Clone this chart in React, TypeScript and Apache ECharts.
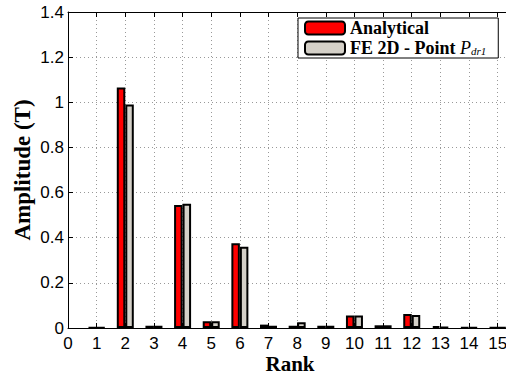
import React, { useEffect, useRef } from "react";
import * as echarts from "echarts";

const ranks = [1, 2, 3, 4, 5, 6, 7, 8, 9, 10, 11, 12, 13, 14, 15];
const analytical = [0.003, 1.065, 0.01, 0.545, 0.03, 0.375, 0.015, 0.01, 0.01, 0.055, 0.012, 0.062, 0.008, 0.003, 0.003];
const fe2d = [0.003, 0.99, 0.01, 0.55, 0.03, 0.36, 0.01, 0.025, 0.01, 0.055, 0.012, 0.058, 0.005, 0.003, 0.003];
const seriesNames = ["Analytical", "FE 2D - Point Pdr1"];
const yTicks = { min: 0, max: 1.4, interval: 0.2 };
const xTicks = { min: 0, max: 15.5, interval: 1 };

export default function App() {
  const ref = useRef<HTMLDivElement>(null);
  useEffect(() => {
    const chart = echarts.init(ref.current!, null, { renderer: "svg" });
    const grid = { left: 68, top: 12, width: 444, height: 316, outerBoundsMode: "none", containLabel: false };
    const sans = "'Liberation Sans', Arial, sans-serif";
    const serif = "'Liberation Serif', 'Times New Roman', serif";
    const xCommon = {
      type: "value" as const,
      min: xTicks.min,
      max: xTicks.max,
      interval: xTicks.interval,
      axisLine: { show: true, onZero: false, lineStyle: { color: "#000", width: 1 } },
      axisTick: { show: true, inside: true, length: 5, lineStyle: { color: "#000" } },
    };
    chart.setOption({
      animation: false,
      backgroundColor: "#fff",
      grid,
      legend: {
        orient: "vertical",
        left: 298,
        top: 18,
        padding: [1, 12, 1, 6],
        itemWidth: 40,
        itemHeight: 13,
        itemGap: 2,
        borderColor: "#000",
        borderWidth: 1,
        backgroundColor: "#fff",
        data: seriesNames,
        itemStyle: { borderColor: "#000", borderWidth: 2 },
        formatter: (name: string) =>
          name === seriesNames[0] ? "{b|Analytical}" : "{b|FE 2D - Point }{i|P}{s|dr1}",
        textStyle: {
          rich: {
            b: { fontFamily: serif, fontWeight: "bold", fontSize: 18, color: "#000" },
            i: { fontFamily: serif, fontStyle: "italic", fontSize: 18, color: "#000" },
            s: { fontFamily: serif, fontStyle: "italic", fontSize: 11, color: "#000", padding: [6, 0, 0, 0] },
          },
        },
      },
      xAxis: [
        {
          ...xCommon,
          position: "bottom",
          name: "Rank",
          nameLocation: "middle",
          nameGap: 25,
          nameMoveOverlap: false,
          nameTextStyle: { fontFamily: serif, fontWeight: "bold", fontSize: 21, color: "#000" },
          axisLabel: {
            fontFamily: sans,
            fontSize: 17,
            color: "#000",
            margin: 7,
            formatter: (v: number) => (Number.isInteger(v) ? String(v) : ""),
          },
          splitLine: { show: true, lineStyle: { color: "#999", type: [1, 3], width: 1 } },
        },
        {
          ...xCommon,
          position: "top",
          axisLabel: { show: false },
          splitLine: { show: false },
        },
      ],
      yAxis: {
        type: "value",
        min: yTicks.min,
        max: yTicks.max,
        interval: yTicks.interval,
        name: "Amplitude (T)",
        nameLocation: "middle",
        nameGap: 34,
        nameMoveOverlap: false,
        nameTextStyle: { fontFamily: serif, fontWeight: "bold", fontSize: 23, color: "#000" },
        axisLine: { show: true, lineStyle: { color: "#000", width: 1 } },
        axisTick: { show: true, inside: true, length: 5, lineStyle: { color: "#000" } },
        axisLabel: { fontFamily: sans, fontSize: 17, color: "#000", margin: 4 },
        splitLine: { show: true, lineStyle: { color: "#999", type: [1, 3], width: 1 } },
      },
      series: [
        {
          name: seriesNames[0],
          type: "bar",
          xAxisIndex: 0,
          barWidth: 8.5,
          barGap: "0%",
          itemStyle: { color: "#ff0000", borderColor: "#000", borderWidth: 2 },
          data: ranks.map((r, i) => [r, analytical[i]]),
        },
        {
          name: seriesNames[1],
          type: "bar",
          xAxisIndex: 0,
          barWidth: 8.5,
          barGap: "0%",
          itemStyle: { color: "#d4d0c8", borderColor: "#000", borderWidth: 2 },
          data: ranks.map((r, i) => [r, fe2d[i]]),
        },
      ],
    });
    return () => chart.dispose();
  }, []);
  return (
    <div
      ref={ref}
      style={{ position: "absolute", left: 0, top: 0, width: 506, height: 374 }}
    />
  );
}
